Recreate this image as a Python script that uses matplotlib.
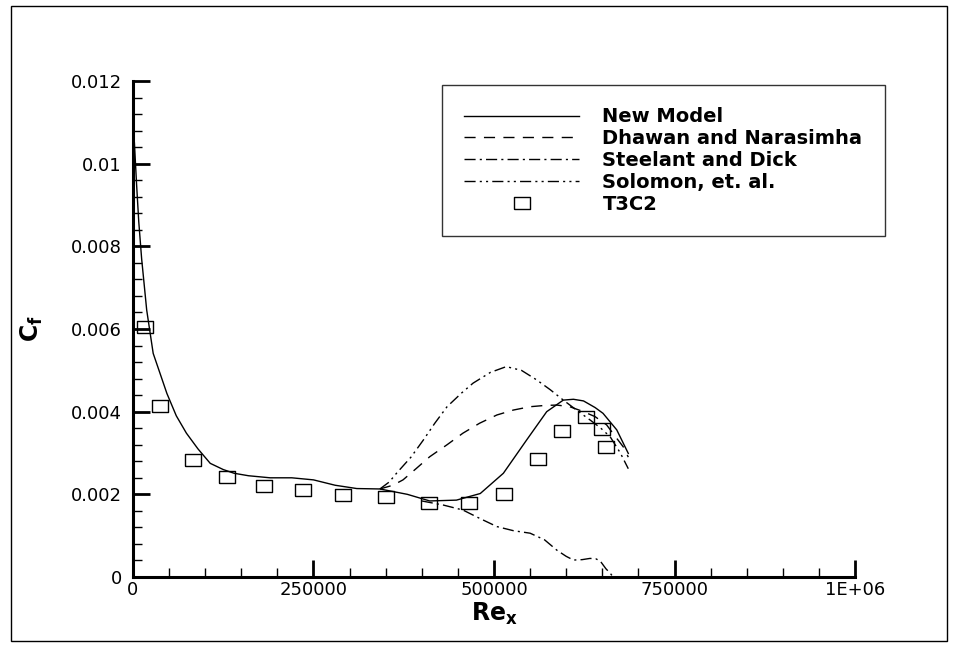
import numpy as np
import matplotlib.pyplot as plt
from matplotlib.patches import Rectangle
from matplotlib.ticker import MultipleLocator, FixedLocator

plt.rcParams['font.family'] = ['DejaVu Sans']
plt.rcParams['mathtext.fontset'] = 'dejavusans'

# New Model (solid)
x_new = [2000, 5000, 8000, 12000, 19000, 28000, 38000, 47000, 60000, 74000, 90000,
         107000, 125000, 140000, 160000, 190000, 220000, 250000, 280000, 310000,
         342000, 380000, 411000, 448000, 481000, 513000, 545000, 573000, 596000,
         610000, 624000, 640000, 651000, 670000, 686000]
y_new = [0.0105, 0.0095, 0.0086, 0.0077, 0.00646, 0.00541, 0.0049, 0.00444, 0.0039,
         0.00348, 0.0031, 0.00275, 0.0026, 0.00251, 0.00245, 0.0024, 0.0024, 0.00235,
         0.00222, 0.00214, 0.00213, 0.0020, 0.00184, 0.00186, 0.00202, 0.00251,
         0.00331, 0.004, 0.00428, 0.0043, 0.00426, 0.0041, 0.00396, 0.00356, 0.00299]

# Dhawan and Narasimha (dashed)
x_dh = [342000, 360000, 374000, 392000, 411000, 435000, 457000, 480000, 504000, 527000,
        550000, 570000, 587000, 605000, 624000, 640000, 656000, 668000, 679000, 686000]
y_dh = [0.00213, 0.00222, 0.00235, 0.00262, 0.00291, 0.0032, 0.00348, 0.00372, 0.00392,
        0.00404, 0.00412, 0.00415, 0.00416, 0.00412, 0.004, 0.00388, 0.00368, 0.0034,
        0.00315, 0.0029]

# Steelant and Dick (dash-dot)
x_st = [400000, 430000, 457000, 480000, 504000, 527000, 550000, 570000, 587000, 600000,
        610000, 622000, 633000, 641000, 647000, 655000, 661000, 665000]
y_st = [0.00184, 0.00174, 0.00162, 0.00142, 0.00122, 0.00112, 0.00106, 0.0009, 0.00065,
        0.0005, 0.00041, 0.00042, 0.00045, 0.00044, 0.00039, 0.0002, 0.00009, 0.0]

# Solomon, et. al. (dash-dot-dot)
x_so = [342000, 355000, 365000, 385000, 402000, 418000, 435000, 455000, 471000, 495000,
        517000, 538000, 559000, 578000, 596000, 615000, 633000, 648000, 661000, 675000,
        686000]
y_so = [0.00213, 0.0023, 0.00251, 0.0029, 0.00331, 0.00372, 0.00412, 0.00445, 0.00469,
        0.00495, 0.00509, 0.005, 0.00477, 0.00453, 0.00428, 0.00403, 0.0038, 0.0036,
        0.00339, 0.003, 0.00262]

# T3C2 experiment
x_t3 = [16600, 37400, 83500, 130000, 182000, 235000, 291000, 350000, 410000, 466000,
        514000, 561000, 594500, 627000, 649000, 655000]
y_t3 = [0.00606, 0.00414, 0.00283, 0.00243, 0.0022, 0.0021, 0.00198, 0.00193, 0.0018,
        0.0018, 0.00202, 0.00285, 0.00354, 0.00386, 0.00357, 0.00314]

xticks = [0, 250000, 500000, 750000, 1000000]
xtick_labels = ['0', '250000', '500000', '750000', '1E+06']
yticks = [0, 0.002, 0.004, 0.006, 0.008, 0.01, 0.012]
ytick_labels = ['0', '0.002', '0.004', '0.006', '0.008', '0.01', '0.012']

fig = plt.figure(figsize=(9.58, 6.46), dpi=100)
ax = fig.add_axes([0.1388, 0.1068, 0.7537, 0.7678])

lw = 1.0
ax.plot(x_new, y_new, color='black', lw=lw, label='New Model')
ax.plot(x_dh, y_dh, color='black', lw=lw, dashes=(8, 6), label='Dhawan and Narasimha')
ax.plot(x_st, y_st, color='black', lw=lw, dashes=(8, 3, 1.5, 3), label='Steelant and Dick')
ax.plot(x_so, y_so, color='black', lw=lw, dashes=(8, 3, 1.5, 3, 1.5, 3),
        label='Solomon, et. al.')
rect = [(-1.3, -1), (1.3, -1), (1.3, 1), (-1.3, 1), (-1.3, -1)]
ax.plot(x_t3, y_t3, ls='none', marker=rect, markersize=12, mfc='none', mec='black',
        mew=1.0, label='T3C2')

ax.set_xlim(0, 1000000)
ax.set_ylim(0, 0.012)
ax.xaxis.set_major_locator(FixedLocator(xticks))
ax.set_xticklabels(xtick_labels)
ax.yaxis.set_major_locator(FixedLocator(yticks))
ax.set_yticklabels(ytick_labels)
ax.xaxis.set_minor_locator(MultipleLocator(50000))
ax.yaxis.set_minor_locator(MultipleLocator(0.0004))

for s in ['top', 'right']:
    ax.spines[s].set_visible(False)
for s in ['left', 'bottom']:
    ax.spines[s].set_linewidth(2.2)
ax.tick_params(which='major', direction='in', length=12, width=2, labelsize=13, pad=8)
ax.tick_params(which='minor', direction='in', length=6.5, width=1)
ax.tick_params(axis='x', which='major', pad=3)

ax.set_xlabel(r'$\mathbf{Re_x}$', fontsize=17, labelpad=1)
ax.text(-0.14, 0.5, r'$\mathbf{C_f}$', transform=ax.transAxes, rotation=90,
        fontsize=17, ha='center', va='center')

leg = ax.legend(loc='upper left', bbox_to_anchor=(0.428, 0.992), frameon=True,
                fancybox=False, edgecolor='black', handlelength=5.9,
                prop={'weight': 'bold', 'size': 14}, labelspacing=0.15,
                borderpad=1.15, handletextpad=1.2, borderaxespad=0)
leg.get_frame().set_linewidth(1.0)

fig.patches.append(Rectangle((0.011, 0.008), 0.978, 0.983, transform=fig.transFigure,
                             fill=False, edgecolor='black', lw=1.0))

fig.savefig('out.png', dpi=100)
